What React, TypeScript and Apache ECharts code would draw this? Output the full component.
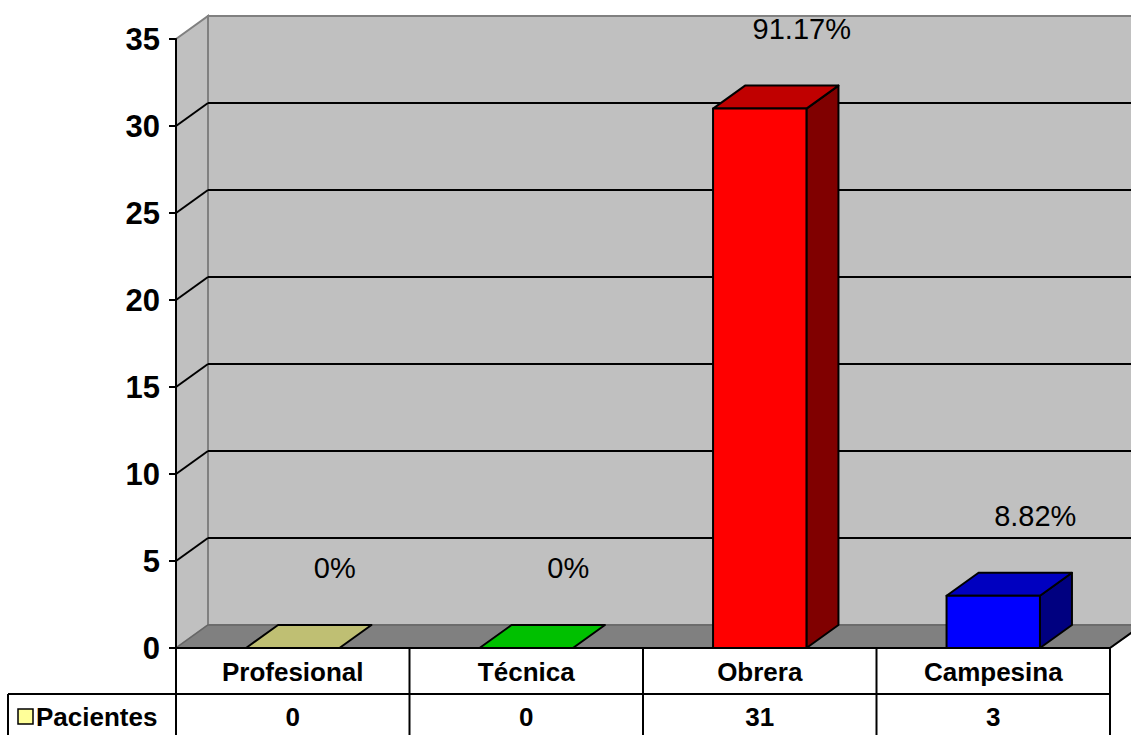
import React, { useEffect, useRef } from "react";
import * as echarts from "echarts";

const categories = ["Profesional", "Técnica", "Obrera", "Campesina"];
const seriesName = "Pacientes";
const pacientes = [0, 0, 31, 3];
const percentLabels = ["0%", "0%", "91.17%", "8.82%"];
const yTicks = [0, 5, 10, 15, 20, 25, 30, 35];
const frontColors = ["#ffff99", "#00ff00", "#ff0000", "#0000ff"];
const topColors = ["#bfbf73", "#00c000", "#c00000", "#0000c0"];
const sideColors = ["#80804d", "#008000", "#800000", "#000080"];

const FONT = "'Liberation Sans', Arial, sans-serif";
const W = 1131;
const H = 735;
const GRID = { left: 176, right: 21, top: 39, bottom: 87 };
const DX = 32;
const DY = -23;
const ROW1 = 46;

export default function App() {
  const ref = useRef<HTMLDivElement>(null);
  useEffect(() => {
    if (!ref.current) return;
    const chart = echarts.init(ref.current, undefined, { renderer: "svg" });
    const yMin = yTicks[0];
    const yMax = yTicks[yTicks.length - 1];

    const option: any = {
      animation: false,
      backgroundColor: "#ffffff",
      grid: { ...GRID, containLabel: false },
      xAxis: {
        type: "category",
        data: categories,
        z: 10,
        axisLine: { show: true, lineStyle: { color: "#000", width: 2 } },
        axisTick: { show: false },
        splitLine: { show: false },
        axisLabel: {
          margin: 11,
          fontFamily: FONT,
          fontWeight: "bold",
          fontSize: 26,
          color: "#000",
        },
      },
      yAxis: {
        type: "value",
        min: yMin,
        max: yMax,
        interval: yTicks[1] - yTicks[0],
        z: 10,
        axisLine: { show: true, lineStyle: { color: "#000", width: 2 } },
        axisTick: { show: true, length: 7, lineStyle: { color: "#000", width: 2 } },
        splitLine: { show: false },
        axisLabel: {
          margin: 16,
          fontFamily: FONT,
          fontWeight: "bold",
          fontSize: 31,
          color: "#000",
        },
      },
      graphic: [
        { type: "line", shape: { x1: 8, y1: H - GRID.bottom + ROW1, x2: GRID.left, y2: H - GRID.bottom + ROW1 }, style: { stroke: "#000", lineWidth: 2 }, z: 20 },
        { type: "line", shape: { x1: 8, y1: H - GRID.bottom + ROW1, x2: 8, y2: H }, style: { stroke: "#000", lineWidth: 2 }, z: 20 },
        { type: "rect", shape: { x: 18, y: 709, width: 15, height: 15 }, style: { fill: frontColors[0], stroke: "#000", lineWidth: 1.5 }, z: 20 },
        { type: "text", x: 36, y: 717, style: { text: seriesName, font: `bold 26px ${FONT}`, fill: "#000", textVerticalAlign: "middle", verticalAlign: "middle" }, z: 20 },
      ],
      series: [
        {
          type: "custom",
          name: "walls",
          z: 1,
          silent: true,
          data: [[0, 0]],
          renderItem: (params: any, api: any) => {
            const cs = params.coordSys;
            const xl = cs.x;
            const xr = cs.x + cs.width;
            const y0 = api.coord([0, yMin])[1];
            const yt = api.coord([0, yMax])[1];
            return {
              type: "group",
              children: [
                { type: "rect", shape: { x: xl + DX, y: yt + DY, width: cs.width, height: y0 - yt }, style: { fill: "#c0c0c0", stroke: "#808080", lineWidth: 2 } },
                { type: "polygon", shape: { points: [[xl, yt], [xl + DX, yt + DY], [xl + DX, y0 + DY], [xl, y0]] }, style: { fill: "#c0c0c0", stroke: "#808080", lineWidth: 2 } },
                { type: "polygon", shape: { points: [[xl, y0], [xl + DX, y0 + DY], [xr + DX, y0 + DY], [xr, y0]] }, style: { fill: "#808080", stroke: "#666666", lineWidth: 1.5 } },
                { type: "line", shape: { x1: xr, y1: y0, x2: xr + DX, y2: y0 + DY }, style: { stroke: "#000", lineWidth: 2 } },
              ],
            };
          },
        },
        {
          type: "custom",
          name: "gridlines",
          z: 1,
          silent: true,
          data: yTicks.filter((v) => v > yMin && v < yMax).map((v) => [0, v]),
          renderItem: (params: any, api: any) => {
            const cs = params.coordSys;
            const xl = cs.x;
            const xr = cs.x + cs.width;
            const y = api.coord([0, api.value(1)])[1];
            return {
              type: "group",
              children: [
                { type: "line", shape: { x1: xl, y1: y, x2: xl + DX, y2: y + DY }, style: { stroke: "#000", lineWidth: 2 } },
                { type: "line", shape: { x1: xl + DX, y1: y + DY, x2: xr + DX, y2: y + DY }, style: { stroke: "#000", lineWidth: 2 } },
              ],
            };
          },
        },
        {
          type: "custom",
          name: seriesName,
          z: 3,
          data: pacientes.map((v, i) => [i, v]),
          renderItem: (params: any, api: any) => {
            const i = api.value(0);
            const v = api.value(1);
            const top = api.coord([i, v]);
            const base = api.coord([i, 0]);
            const bw = api.size([1, 0])[0] * 0.4;
            const xl = top[0] - bw / 2;
            const xr = top[0] + bw / 2;
            const yt = top[1];
            const yb = base[1];
            const stroke = { stroke: "#000", lineWidth: 2, lineJoin: "round" };
            const children: any[] = [];
            if (yb - yt > 0.5) {
              children.push({ type: "polygon", shape: { points: [[xr, yt], [xr + DX, yt + DY], [xr + DX, yb + DY], [xr, yb]] }, style: { fill: sideColors[i], ...stroke } });
            }
            children.push({ type: "polygon", shape: { points: [[xl, yt], [xl + DX, yt + DY], [xr + DX, yt + DY], [xr, yt]] }, style: { fill: topColors[i], ...stroke } });
            if (yb - yt > 0.5) {
              children.push({ type: "rect", shape: { x: xl, y: yt, width: bw, height: yb - yt }, style: { fill: frontColors[i], ...stroke } });
            }
            children.push({
              type: "text",
              x: top[0] + 42,
              y: yt - 80,
              style: { text: percentLabels[i], font: `29px ${FONT}`, fill: "#000", textAlign: "center", align: "center", textVerticalAlign: "middle", verticalAlign: "middle" },
            });
            return { type: "group", children };
          },
        },
        {
          type: "custom",
          name: "table",
          z: 3,
          silent: true,
          data: pacientes.map((v, i) => [i, v]),
          renderItem: (params: any, api: any) => {
            const i = api.value(0);
            const p = api.coord([i, 0]);
            const half = api.size([1, 0])[0] / 2;
            const y0 = p[1];
            const yEnd = y0 + GRID.bottom;
            const line = { stroke: "#000", lineWidth: 2 };
            const children: any[] = [
              { type: "line", shape: { x1: p[0] + half, y1: y0, x2: p[0] + half, y2: yEnd }, style: line },
              { type: "line", shape: { x1: p[0] - half, y1: y0 + ROW1, x2: p[0] + half, y2: y0 + ROW1 }, style: line },
              { type: "text", x: p[0], y: y0 + 69, style: { text: String(api.value(1)), font: `bold 26px ${FONT}`, fill: "#000", textAlign: "center", align: "center", textVerticalAlign: "middle", verticalAlign: "middle" } },
            ];
            if (i === 0) {
              children.push({ type: "line", shape: { x1: p[0] - half, y1: y0, x2: p[0] - half, y2: yEnd }, style: line });
            }
            return { type: "group", children };
          },
        },
      ],
    };
    chart.setOption(option);
    return () => chart.dispose();
  }, []);

  return (
    <div
      ref={ref}
      style={{ position: "fixed", left: 0, top: 0, width: W, height: H, background: "#fff" }}
    />
  );
}
